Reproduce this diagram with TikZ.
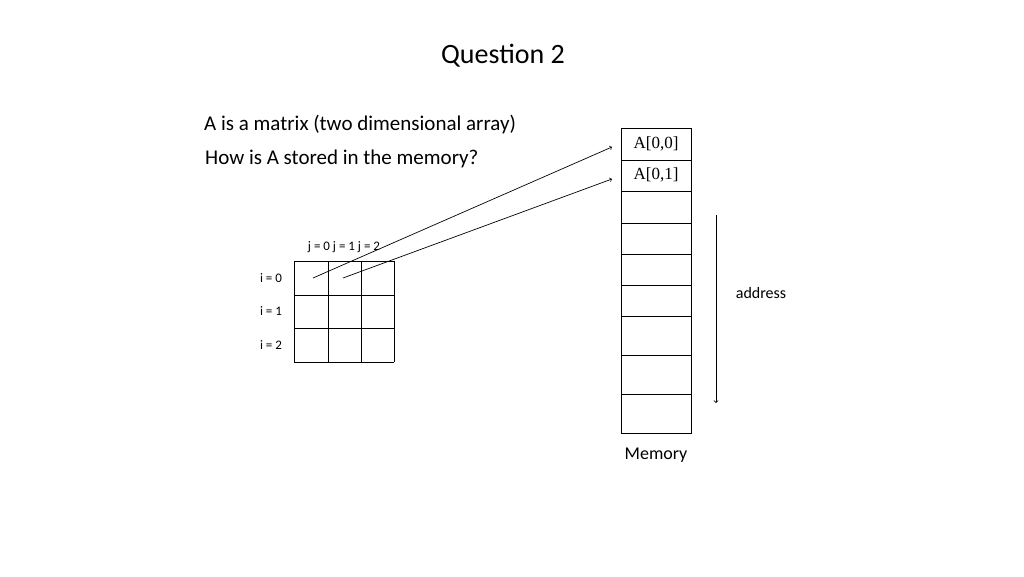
\documentclass[tikz,border=0pt]{standalone}
\usepackage{fontspec}
\setmainfont{Carlito}
\newfontfamily\tnr{Liberation Serif}
\begin{document}
\begin{tikzpicture}[x=1pt,y=-1pt,
  lbl/.style={inner sep=0pt,anchor=base west},
  cell/.style={draw,line width=0.8pt}]
\useasboundingbox (0,0) rectangle (1024,576);
\node[inner sep=0pt] (title) at (503,56) {\fontsize{28}{30}\selectfont Question 2};
\node[lbl] (t1) at (204,130) {\fontsize{21}{24}\selectfont A is a matrix (two dimensional array)};
\node[lbl] (t2) at (205,164) {\fontsize{21}{24}\selectfont How is A stored in the memory?};
% memory
\foreach \a/\b in {128/160,160/191,191/223,223/254,254/285,285/316,316/355,355/394,394/433}
  \draw[line width=0.8pt] (621,\a) rectangle (691,\b);
\node[inner sep=0pt] (m0) at (656,144) {\tnr\fontsize{17}{19}\selectfont A[0,0]};
\node[inner sep=0pt] (m1) at (656,175) {\tnr\fontsize{17}{19}\selectfont A[0,1]};
\node[inner sep=0pt] (mem) at (656,455) {\fontsize{18}{20}\selectfont Memory};
\coordinate (e0) at (612,147);
\coordinate (e1) at (612,179);
% matrix
\foreach \x in {294,328,361,394} \draw[line width=0.8pt] (\x,261) -- (\x,362);
\foreach \y in {261,295,328,362} \draw[line width=0.8pt] (294,\y) -- (394,\y);
\node[inner sep=0pt] (j) at (344,247) {\fontsize{13}{15}\selectfont j = 0 j = 1 j = 2};
\node[inner sep=0pt] (i0) at (271,278) {\fontsize{13}{15}\selectfont i = 0};
\node[inner sep=0pt] (i1) at (271,311) {\fontsize{13}{15}\selectfont i = 1};
\node[inner sep=0pt] (i2) at (271,345) {\fontsize{13}{15}\selectfont i = 2};
\coordinate (s0) at (313,278);
\coordinate (s1) at (343,278);
\draw[->,line width=0.7pt] (s0) -- (e0);
\draw[->,line width=0.7pt] (s1) -- (e1);
% address
\coordinate (a0) at (716,215);
\coordinate (a1) at (716,403);
\draw[->,line width=0.8pt] (a0) -- (a1);
\node[inner sep=0pt] (addr) at (761,293) {\fontsize{16}{18}\selectfont address};
\end{tikzpicture}
\end{document}
